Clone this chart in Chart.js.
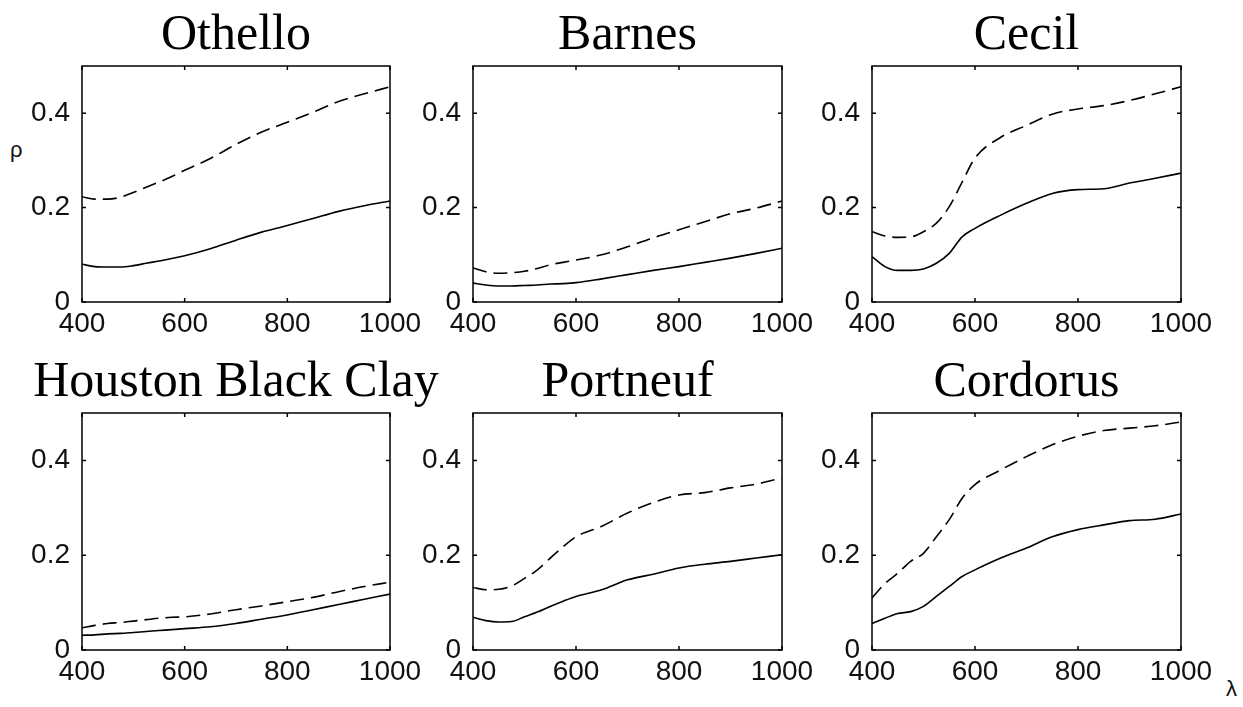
<!DOCTYPE html>
<html>
<head>
<meta charset="utf-8">
<script src="https://cdn.jsdelivr.net/npm/chart.js@4"></script>
<style>
body { margin: 0; background: #fff; overflow: hidden; width: 1243px; height: 707px; position: relative; }
.panel { position: absolute; }
.lbl { position: absolute; font-family: 'Liberation Sans', Arial, sans-serif; font-size: 22px; color: #111; }
</style>
</head>
<body>
<div class="lbl" style="left:10px;top:137px">ρ</div>
<div class="lbl" style="left:1226px;top:676px">λ</div>
<script>
// wavelength (nm) and reflectance readings
const wavelengths = [400, 425, 450, 475, 500, 525, 550, 575, 600, 650, 700, 750, 800, 850, 900, 950, 1000];
const xTickValues = [400, 600, 800, 1000];
const yTickValues = [0, 0.2, 0.4];
const soilNames = ['Othello', 'Barnes', 'Cecil', 'Houston Black Clay', 'Portneuf', 'Cordorus'];

const othelloDry = [.223, .218, .218, .222, .232, .243, .254, .266, .279, .304, .334, .360, .381, .402, .425, .441, .456];
const othelloWet = [.080, .075, .074, .074, .077, .082, .087, .092, .098, .113, .131, .148, .162, .177, .192, .204, .214];
const barnesDry = [.072, .064, .061, .062, .065, .071, .079, .084, .089, .100, .117, .136, .153, .170, .187, .199, .214];
const barnesWet = [.040, .036, .034, .034, .035, .036, .038, .039, .041, .049, .058, .067, .075, .084, .093, .103, .114];
const cecilDry = [.149, .140, .137, .138, .149, .167, .202, .254, .305, .349, .374, .398, .409, .416, .427, .441, .456];
const cecilWet = [.096, .075, .067, .067, .070, .082, .103, .138, .156, .184, .209, .230, .238, .240, .252, .262, .273];
const houstonDry = [.047, .052, .056, .058, .061, .064, .067, .069, .070, .076, .085, .093, .102, .111, .123, .134, .143];
const houstonWet = [.031, .032, .034, .035, .037, .039, .041, .043, .045, .049, .056, .065, .074, .085, .096, .107, .118];
const portneufDry = [.132, .127, .128, .135, .151, .169, .194, .218, .239, .261, .289, .311, .327, .332, .342, .350, .363];
const portneufWet = [.069, .062, .059, .060, .070, .080, .092, .103, .113, .127, .148, .160, .173, .181, .187, .194, .201];
const cordorusDry = [.110, .140, .162, .187, .204, .239, .275, .320, .349, .380, .408, .433, .451, .463, .468, .473, .481];
const cordorusWet = [.056, .067, .077, .081, .092, .113, .134, .155, .169, .194, .215, .239, .254, .264, .273, .276, .287];

const dryCurves = [othelloDry, barnesDry, cecilDry, houstonDry, portneufDry, cordorusDry];
const wetCurves = [othelloWet, barnesWet, cecilWet, houstonWet, portneufWet, cordorusWet];

// plot area boxes on the page
const plotBoxes = [
    { left: 82, top: 66, w: 308, h: 236 }, { left: 473, top: 66, w: 309, h: 236 }, { left: 872, top: 66, w: 309, h: 236 },
    { left: 82, top: 413, w: 308, h: 237 }, { left: 473, top: 413, w: 309, h: 237 }, { left: 872, top: 413, w: 309, h: 237 }
];
const SIDE = 82, TITLE_H = 66, XAXIS_H = 50;

// box frame with small inward ticks on all four sides
const framePlugin = {
    id: 'frame',
    afterDraw(chart) {
        const { ctx, chartArea: a } = chart;
        const x = chart.scales.x, y = chart.scales.y;
        ctx.save();
        ctx.strokeStyle = '#000';
        ctx.lineWidth = 1.5;
        ctx.strokeRect(a.left, a.top, a.right - a.left, a.bottom - a.top);
        ctx.beginPath();
        x.ticks.forEach(t => {
            const px = x.getPixelForValue(t.value);
            ctx.moveTo(px, a.bottom); ctx.lineTo(px, a.bottom - 4);
            ctx.moveTo(px, a.top); ctx.lineTo(px, a.top + 4);
        });
        y.ticks.forEach(t => {
            const py = y.getPixelForValue(t.value);
            ctx.moveTo(a.left, py); ctx.lineTo(a.left + 4, py);
            ctx.moveTo(a.right, py); ctx.lineTo(a.right - 4, py);
        });
        ctx.stroke();
        ctx.restore();
    }
};

const tickFont = { family: "'Liberation Sans Narrow', 'Arial Narrow', 'Liberation Sans', sans-serif", size: 28 };

function makePanel(i) {
    const box = plotBoxes[i];
    const div = document.createElement('div');
    div.className = 'panel';
    const W = box.w + 2 * SIDE, H = box.h + TITLE_H + XAXIS_H;
    div.style.left = (box.left - SIDE) + 'px';
    div.style.top = (box.top - TITLE_H) + 'px';
    const canvas = document.createElement('canvas');
    canvas.width = W; canvas.height = H;
    canvas.style.width = W + 'px'; canvas.style.height = H + 'px';
    div.appendChild(canvas);
    document.body.appendChild(div);

    const toPoints = arr => wavelengths.map((w, k) => ({ x: w, y: arr[k] }));

    new Chart(canvas, {
        type: 'line',
        data: {
            datasets: [{
                label: 'dry',
                data: toPoints(dryCurves[i]),
                borderColor: '#000',
                borderWidth: 1.6,
                borderDash: [14, 7],
                pointRadius: 0,
                cubicInterpolationMode: 'monotone',
                yAxisID: 'y'
            }, {
                label: 'wet',
                data: toPoints(wetCurves[i]),
                borderColor: '#000',
                borderWidth: 1.6,
                pointRadius: 0,
                cubicInterpolationMode: 'monotone',
                yAxisID: 'y'
            }]
        },
        options: {
            responsive: false,
            animation: false,
            devicePixelRatio: 1,
            layout: { padding: 0 },
            plugins: {
                legend: { display: false },
                tooltip: { enabled: false },
                title: {
                    display: true,
                    text: soilNames[i],
                    color: '#000',
                    font: { family: "'Liberation Serif', 'Times New Roman', serif", size: 50, weight: 'normal', lineHeight: 1.1 },
                    padding: { top: 8, bottom: 3 }
                }
            },
            scales: {
                x: {
                    type: 'linear',
                    min: 400, max: 1000,
                    afterBuildTicks: s => { s.ticks = xTickValues.map(v => ({ value: v })); },
                    afterFit: s => { s.height = XAXIS_H; },
                    grid: { display: false, drawTicks: false },
                    border: { display: false },
                    ticks: { color: '#111', font: tickFont, padding: 5, maxRotation: 0, autoSkip: false, callback: v => String(v) }
                },
                y: {
                    type: 'linear',
                    position: 'left',
                    min: 0, max: 0.5,
                    afterBuildTicks: s => { s.ticks = yTickValues.map(v => ({ value: v })); },
                    afterFit: s => { s.width = SIDE; },
                    grid: { display: false, drawTicks: false },
                    border: { display: false },
                    ticks: { color: '#111', font: tickFont, padding: 12, autoSkip: false, callback: v => String(v) }
                },
                yRight: {
                    type: 'linear',
                    position: 'right',
                    min: 0, max: 0.5,
                    afterFit: s => { s.width = SIDE; },
                    grid: { display: false, drawTicks: false },
                    border: { display: false },
                    ticks: { display: false }
                }
            }
        },
        plugins: [framePlugin]
    });
}

for (let i = 0; i < soilNames.length; i++) makePanel(i);
</script>
</body>
</html>
